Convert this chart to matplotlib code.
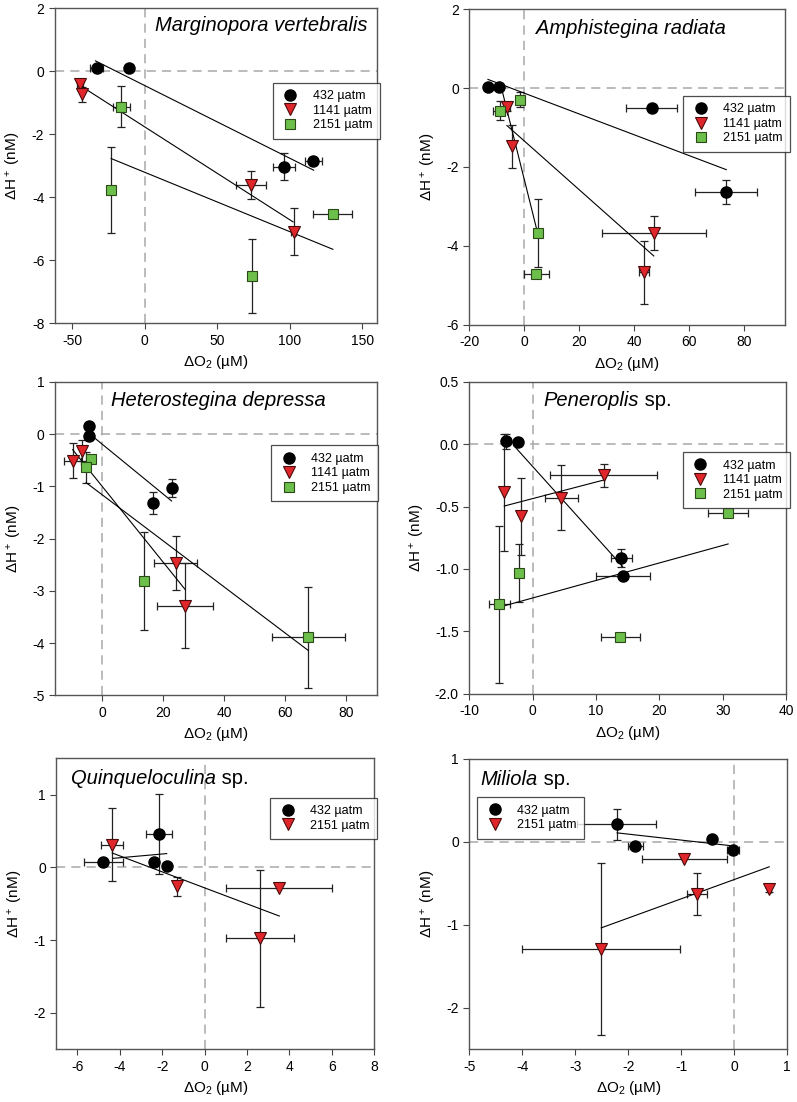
import numpy as np
import matplotlib
matplotlib.use("Agg")
import matplotlib.pyplot as plt

plt.rcParams['font.family'] = ['Liberation Sans', 'DejaVu Sans']
plt.rcParams['mathtext.fontset'] = 'custom'
plt.rcParams['mathtext.rm'] = 'Liberation Sans'
plt.rcParams['mathtext.it'] = 'Liberation Sans:italic'
plt.rcParams['axes.unicode_minus'] = False

nan = np.nan

# --- Marginopora vertebralis
mv_x432 = [-33.0, -11.0, 95.7, 116.2]
mv_y432 = [0.10, 0.11, -3.03, -2.85]
mv_xe432 = [4.5, nan, 7.6, 6.0]
mv_ye432 = [nan, nan, 0.43, 0.12]
mv_l432 = ([-33.9, 116.4], [0.33, -3.14])
mv_x1141 = [-44.7, -43.1, 73.4, 102.6]
mv_y1141 = [-0.40, -0.73, -3.60, -5.09]
mv_xe1141 = [2.0, nan, 10.4, 1.5]
mv_ye1141 = [0.12, 0.24, 0.44, 0.75]
mv_l1141 = ([-44.2, 102.2], [-0.46, -4.78])
mv_x2151 = [-16.1, -23.0, 73.6, 129.6]
mv_y2151 = [-1.12, -3.76, -6.50, -4.53]
mv_xe2151 = [5.8, nan, nan, 13.5]
mv_ye2151 = [0.64, 1.36, 1.17, 0.10]
mv_l2151 = ([-23.1, 129.6], [-2.77, -5.65])

# --- Amphistegina radiata
ar_x432 = [-13.2, -9.1, 46.4, 73.6]
ar_y432 = [0.03, 0.03, -0.50, -2.64]
ar_xe432 = [nan, nan, 9.3, 11.3]
ar_ye432 = [nan, nan, 0.10, 0.30]
ar_l432 = ([-13.2, 73.6], [0.22, -2.07])
ar_x1141 = [-6.3, -4.5, 47.2, 43.6]
ar_y1141 = [-0.47, -1.48, -3.68, -4.67]
ar_xe1141 = [1.0, nan, 18.9, 1.9]
ar_ye1141 = [0.10, 0.54, 0.43, 0.80]
ar_l1141 = ([-6.3, 47.2], [-0.95, -4.26])
ar_x2151 = [-8.8, -1.5, 4.9, 4.4]
ar_y2151 = [-0.57, -0.30, -3.68, -4.71]
ar_xe2151 = [2.7, nan, nan, 4.5]
ar_ye2151 = [0.23, 0.19, 0.87, nan]
ar_l2151 = ([-8.8, 4.9], [0.15, -3.68])

# --- Heterostegina depressa
hd_x432 = [-4.2, -4.4, 16.7, 22.7]
hd_y432 = [0.15, -0.04, -1.31, -1.03]
hd_xe432 = [nan, nan, nan, nan]
hd_ye432 = [nan, nan, 0.21, 0.17]
hd_l432 = ([-4.1, 22.7], [0.0, -1.28])
hd_x1141 = [-9.7, -6.7, 24.0, 27.1]
hd_y1141 = [-0.51, -0.32, -2.47, -3.28]
hd_xe1141 = [2.7, nan, 6.9, 9.1]
hd_ye1141 = [0.34, 0.20, 0.52, 0.82]
hd_l1141 = ([-9.7, 27.1], [-0.30, -2.97])
hd_x2151 = [-3.7, -5.4, 13.8, 67.5]
hd_y2151 = [-0.47, -0.64, -2.81, -3.89]
hd_xe2151 = [nan, nan, nan, 12.0]
hd_ye2151 = [nan, 0.30, 0.93, 0.97]
hd_l2151 = ([-5.3, 67.5], [-0.93, -4.14])

# --- Peneroplis sp.
pe_x432 = [-4.27, -2.37, 14.0, 14.3]
pe_y432 = [0.024, 0.016, -0.912, -1.059]
pe_xe432 = [nan, nan, 1.7, 4.3]
pe_ye432 = [0.06, nan, 0.07, nan]
pe_l432 = ([-3.0, 14.2], [-0.01, -0.98])
pe_x1141 = [-4.48, -1.85, 4.52, 11.2]
pe_y1141 = [-0.387, -0.579, -0.43, -0.251]
pe_xe1141 = [nan, nan, 2.6, 8.5]
pe_ye1141 = [0.47, 0.31, 0.26, 0.095]
pe_l1141 = ([-4.48, 11.2], [-0.496, -0.288])
pe_x2151 = [-5.27, -2.2, 13.84, 30.85]
pe_y2151 = [-1.283, -1.032, -1.547, -0.555]
pe_xe2151 = [1.66, nan, 3.05, 3.2]
pe_ye2151 = [0.63, 0.23, 0.03, nan]
pe_l2151 = ([-4.5, 30.85], [-1.296, -0.80])

# --- Quinqueloculina sp.
qu_x432 = [-4.78, -2.16, -2.38, -1.79]
qu_y432 = [0.078, 0.463, 0.07, 0.02]
qu_xe432 = [0.93, 0.63, nan, nan]
qu_ye432 = [nan, 0.55, nan, nan]
qu_l432 = ([-4.31, -1.79], [0.125, 0.19])
qu_x2151 = [-4.36, -1.31, 3.5, 2.6]
qu_y2151 = [0.31, -0.256, -0.278, -0.975]
qu_xe2151 = [0.53, nan, 2.49, 1.6]
qu_ye2151 = [0.5, 0.13, nan, 0.94]
qu_l2151 = ([-4.36, 3.52], [0.198, -0.668])

# --- Miliola sp.
mi_x432 = [-2.22, -1.87, -0.42, -0.03]
mi_y432 = [0.21, -0.048, 0.036, -0.092]
mi_xe432 = [0.75, 0.14, nan, 0.11]
mi_ye432 = [0.185, nan, nan, nan]
mi_l432 = ([-2.21, -0.03], [0.109, -0.048])
mi_x2151 = [-0.94, -0.70, -2.51, 0.66]
mi_y2151 = [-0.20, -0.63, -1.29, -0.57]
mi_xe2151 = [0.8, 0.19, 1.49, 0.03]
mi_ye2151 = [nan, 0.25, 1.04, 0.03]
mi_l2151 = ([-2.51, 0.66], [-1.036, -0.30])

sty432 = dict(marker='o', mfc='black', mec='black', ms=8)
sty1141 = dict(marker='v', mfc='#e0262a', mec='#4a0a0a', ms=8.5, mew=0.8)
sty2151 = dict(marker='s', mfc='#6cbf4a', mec='#2c4a18', ms=6.5, mew=0.8)

panels = [
    dict(pos=[0.0686, 0.7066, 0.4044, 0.2859], name='Marginopora vertebralis', suffix='',
         tpos=(0.31, 0.945), xlim=(-62, 160), ylim=(-8, 2),
         xt=[-50, 0, 50, 100, 150], yt=[-8, -6, -4, -2, 0, 2], fmt='%g',
         series=[('432 µatm', sty432, mv_x432, mv_y432, mv_xe432, mv_ye432, mv_l432),
                 ('1141 µatm', sty1141, mv_x1141, mv_y1141, mv_xe1141, mv_ye1141, mv_l1141),
                 ('2151 µatm', sty2151, mv_x2151, mv_y2151, mv_xe2151, mv_ye2151, mv_l2151)],
         leg=(0.676, 0.764)),
    dict(pos=[0.5888, 0.7055, 0.3962, 0.2861], name='Amphistegina radiata', suffix='',
         tpos=(0.21, 0.94), xlim=(-20, 95), ylim=(-6, 2),
         xt=[-20, 0, 20, 40, 60, 80], yt=[-6, -4, -2, 0, 2], fmt='%g',
         series=[('432 µatm', sty432, ar_x432, ar_y432, ar_xe432, ar_ye432, ar_l432),
                 ('1141 µatm', sty1141, ar_x1141, ar_y1141, ar_xe1141, ar_ye1141, ar_l1141),
                 ('2151 µatm', sty2151, ar_x2151, ar_y2151, ar_xe2151, ar_ye2151, ar_l2151)],
         leg=(0.678, 0.725)),
    dict(pos=[0.069, 0.3689, 0.404, 0.2847], name='Heterostegina depressa', suffix='',
         tpos=(0.175, 0.94), xlim=(-15.5, 90), ylim=(-5, 1),
         xt=[0, 20, 40, 60, 80], yt=[-5, -4, -3, -2, -1, 0, 1], fmt='%g',
         series=[('432 µatm', sty432, hd_x432, hd_y432, hd_xe432, hd_ye432, hd_l432),
                 ('1141 µatm', sty1141, hd_x1141, hd_y1141, hd_xe1141, hd_ye1141, hd_l1141),
                 ('2151 µatm', sty2151, hd_x2151, hd_y2151, hd_xe2151, hd_ye2151, hd_l2151)],
         leg=(0.671, 0.797)),
    dict(pos=[0.5888, 0.3705, 0.3975, 0.2831], name='Peneroplis', suffix=' sp.',
         tpos=(0.235, 0.94), xlim=(-10, 40), ylim=(-2, 0.5),
         xt=[-10, 0, 10, 20, 30, 40], yt=[-2.0, -1.5, -1.0, -0.5, 0.0, 0.5], fmt='%.1f',
         series=[('432 µatm', sty432, pe_x432, pe_y432, pe_xe432, pe_ye432, pe_l432),
                 ('1141 µatm', sty1141, pe_x1141, pe_y1141, pe_xe1141, pe_ye1141, pe_l1141),
                 ('2151 µatm', sty2151, pe_x2151, pe_y2151, pe_xe2151, pe_ye2151, pe_l2151)],
         leg=(0.674, 0.774)),
    dict(pos=[0.0706, 0.0478, 0.399, 0.2641], name='Quinqueloculina', suffix=' sp.',
         tpos=(0.045, 0.93), xlim=(-7, 8), ylim=(-2.5, 1.5),
         xt=[-6, -4, -2, 0, 2, 4, 6, 8], yt=[-2, -1, 0, 1], fmt='%g',
         series=[('432 µatm', sty432, qu_x432, qu_y432, qu_xe432, qu_ye432, qu_l432),
                 ('2151 µatm', sty1141, qu_x2151, qu_y2151, qu_xe2151, qu_ye2151, qu_l2151)],
         leg=(0.673, 0.865)),
    dict(pos=[0.5888, 0.0478, 0.3990, 0.2635], name='Miliola', suffix=' sp.',
         tpos=(0.035, 0.93), xlim=(-5, 1), ylim=(-2.5, 1),
         xt=[-5, -4, -3, -2, -1, 0, 1], yt=[-2, -1, 0, 1], fmt='%g',
         series=[('432 µatm', sty432, mi_x432, mi_y432, mi_xe432, mi_ye432, mi_l432),
                 ('2151 µatm', sty1141, mi_x2151, mi_y2151, mi_xe2151, mi_ye2151, mi_l2151)],
         leg=(0.025, 0.868)),
]

fig = plt.figure(figsize=(7.97, 11.02), dpi=100)

for p in panels:
    ax = fig.add_axes(p['pos'])
    ax.axhline(0, color='#a8a8a8', lw=1.1, dashes=(6, 4), zorder=1)
    ax.axvline(0, color='#a8a8a8', lw=1.1, dashes=(6, 4), zorder=1)
    handles = []
    for lab, sty, x, y, xe, ye, ln in p['series']:
        ax.errorbar(x, y, xerr=xe, yerr=ye, fmt='none', ecolor='#222222',
                    elinewidth=0.9, capsize=3, capthick=0.9, zorder=2)
        ax.plot(ln[0], ln[1], color='black', lw=0.8, zorder=3)
        h, = ax.plot(x, y, ls='none', zorder=4, **sty)
        handles.append((h, lab))
    ax.set_xlim(p['xlim'])
    ax.set_ylim(p['ylim'])
    ax.set_xticks(p['xt'])
    ax.set_yticks(p['yt'])
    ax.yaxis.set_major_formatter(plt.FormatStrFormatter(p['fmt']))
    ax.tick_params(direction='out', length=4, width=0.8, labelsize=10,
                   color='#444444', top=False, right=False)
    for s in ax.spines.values():
        s.set_color('#555555')
        s.set_linewidth(1.0)
    ax.set_xlabel('ΔO$_2$ (µM)', fontsize=11, labelpad=4)
    ax.set_ylabel('ΔH$^+$ (nM)', fontsize=11, labelpad=6)
    t = ax.text(p['tpos'][0], p['tpos'][1], p['name'], transform=ax.transAxes,
                style='italic', fontsize=14.5, va='center', ha='left')
    if p['suffix']:
        ax.annotate(p['suffix'], xy=(1, 0.5), xycoords=t, va='center', ha='left', fontsize=14.5)
    leg = ax.legend([h for h, _ in handles], [l for _, l in handles],
                    loc='upper left', bbox_to_anchor=p['leg'], fontsize=9,
                    frameon=True, fancybox=False, edgecolor='#222222',
                    borderpad=0.6, handletextpad=1.0, labelspacing=0.2,
                    handlelength=1.6, borderaxespad=0)
    leg.get_frame().set_linewidth(0.9)
    leg.set_zorder(5)

fig.savefig('out.png', dpi=100)
